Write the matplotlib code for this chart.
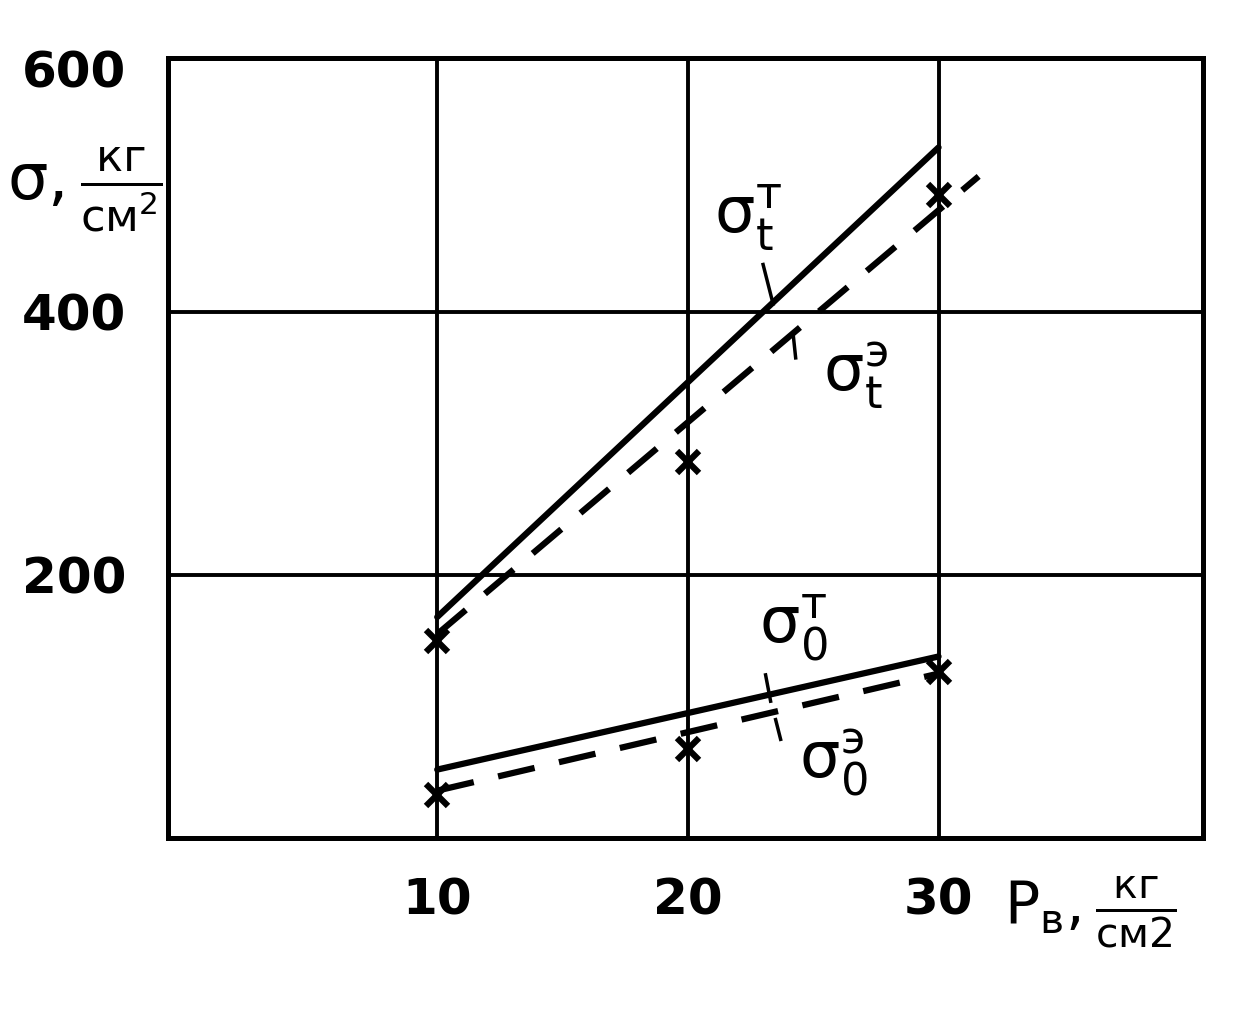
import numpy as np
import matplotlib
matplotlib.use('Agg')
import matplotlib.pyplot as plt

plt.rcParams['font.family'] = ['DejaVu Sans']
plt.rcParams['mathtext.fontset'] = 'dejavusans'
plt.rcParams['mathtext.default'] = 'regular'

# данные
p_points = [10, 20, 30]
sigma_t_exp = [150, 286, 489]      # точки "x" для σt э
sigma_0_exp = [33, 68, 126]        # точки "x" для σ0 э

sigma_t_theor_x = [10, 30]
sigma_t_theor_y = [168, 525]
sigma_t_exp_x = [10, 31.6]
sigma_t_exp_y = [155, 503]

sigma_0_theor_x = [10, 30]
sigma_0_theor_y = [52, 138]
sigma_0_exp_x = [10, 30]
sigma_0_exp_y = [36, 125]

x_ticks = [10, 20, 30]
x_tick_labels = ['10', '20', '30']
y_ticks = [200, 400, 585]
y_tick_labels = ['200', '400', '600']
x_grid = [10, 20, 30]
y_grid = [200, 400]

fig = plt.figure(figsize=(12.45, 10.10), dpi=100)
ax = fig.add_axes([168 / 1245, 1 - 838 / 1010, (1203 - 168) / 1245, (838 - 58) / 1010])
ax.set_xlim(-0.74, 40.55)
ax.set_ylim(0, 593)

for v in x_grid:
    ax.axvline(v, color='black', lw=2.8, zorder=1)
for v in y_grid:
    ax.axhline(v, color='black', lw=2.8, zorder=1)

for s in ax.spines.values():
    s.set_linewidth(3.6)

# линии
ax.plot(sigma_t_theor_x, sigma_t_theor_y, color='black', lw=4.5, solid_capstyle='round', zorder=3)
ax.plot(sigma_t_exp_x, sigma_t_exp_y, color='black', lw=4.5, dashes=(6, 4), zorder=3)
ax.plot(sigma_0_theor_x, sigma_0_theor_y, color='black', lw=4.5, solid_capstyle='round', zorder=3)
ax.plot(sigma_0_exp_x, sigma_0_exp_y, color='black', lw=4.5, dashes=(6, 4), zorder=3)

ax.plot(p_points, sigma_t_exp, linestyle='none', marker='x', ms=16, mew=4.5, color='black', zorder=4)
ax.plot(p_points, sigma_0_exp, linestyle='none', marker='x', ms=16, mew=4.5, color='black', zorder=4)

# подписи кривых
lab_kw = dict(fontsize=46, ha='center', va='center', color='black')
ax.text(22.4, 472, r'$\sigma_t^{т}$', **lab_kw)
ax.text(26.7, 352, r'$\sigma_t^{э}$', **lab_kw)
ax.text(24.2, 160, r'$\sigma_0^{т}$', **lab_kw)
ax.text(25.8, 58, r'$\sigma_0^{э}$', **lab_kw)

# выносные штрихи
ax.plot([23.0, 23.4], [436, 406], color='black', lw=2.5)
ax.plot([24.2, 24.3], [383, 365], color='black', lw=2.5)
ax.plot([23.1, 23.3], [124, 104], color='black', lw=2.5)
ax.plot([23.5, 23.7], [90, 75], color='black', lw=2.5)

ax.set_xticks(x_ticks)
ax.set_xticklabels(x_tick_labels, fontsize=36, fontweight='bold')
ax.set_yticks(y_ticks)
ax.set_yticklabels(y_tick_labels, fontsize=36, fontweight='bold')
ax.tick_params(axis='x', length=0, pad=28)
ax.tick_params(axis='y', length=0, pad=30)

fig.text(85 / 1245, 1 - 190 / 1010, r'$\sigma,\frac{кг}{см^2}$', fontsize=46, ha='center', va='center')
fig.text(1090 / 1245, 1 - 912 / 1010, r'$P_в,\frac{кг}{см2}$', fontsize=42, ha='center', va='center')

fig.savefig('out.png', dpi=100)
